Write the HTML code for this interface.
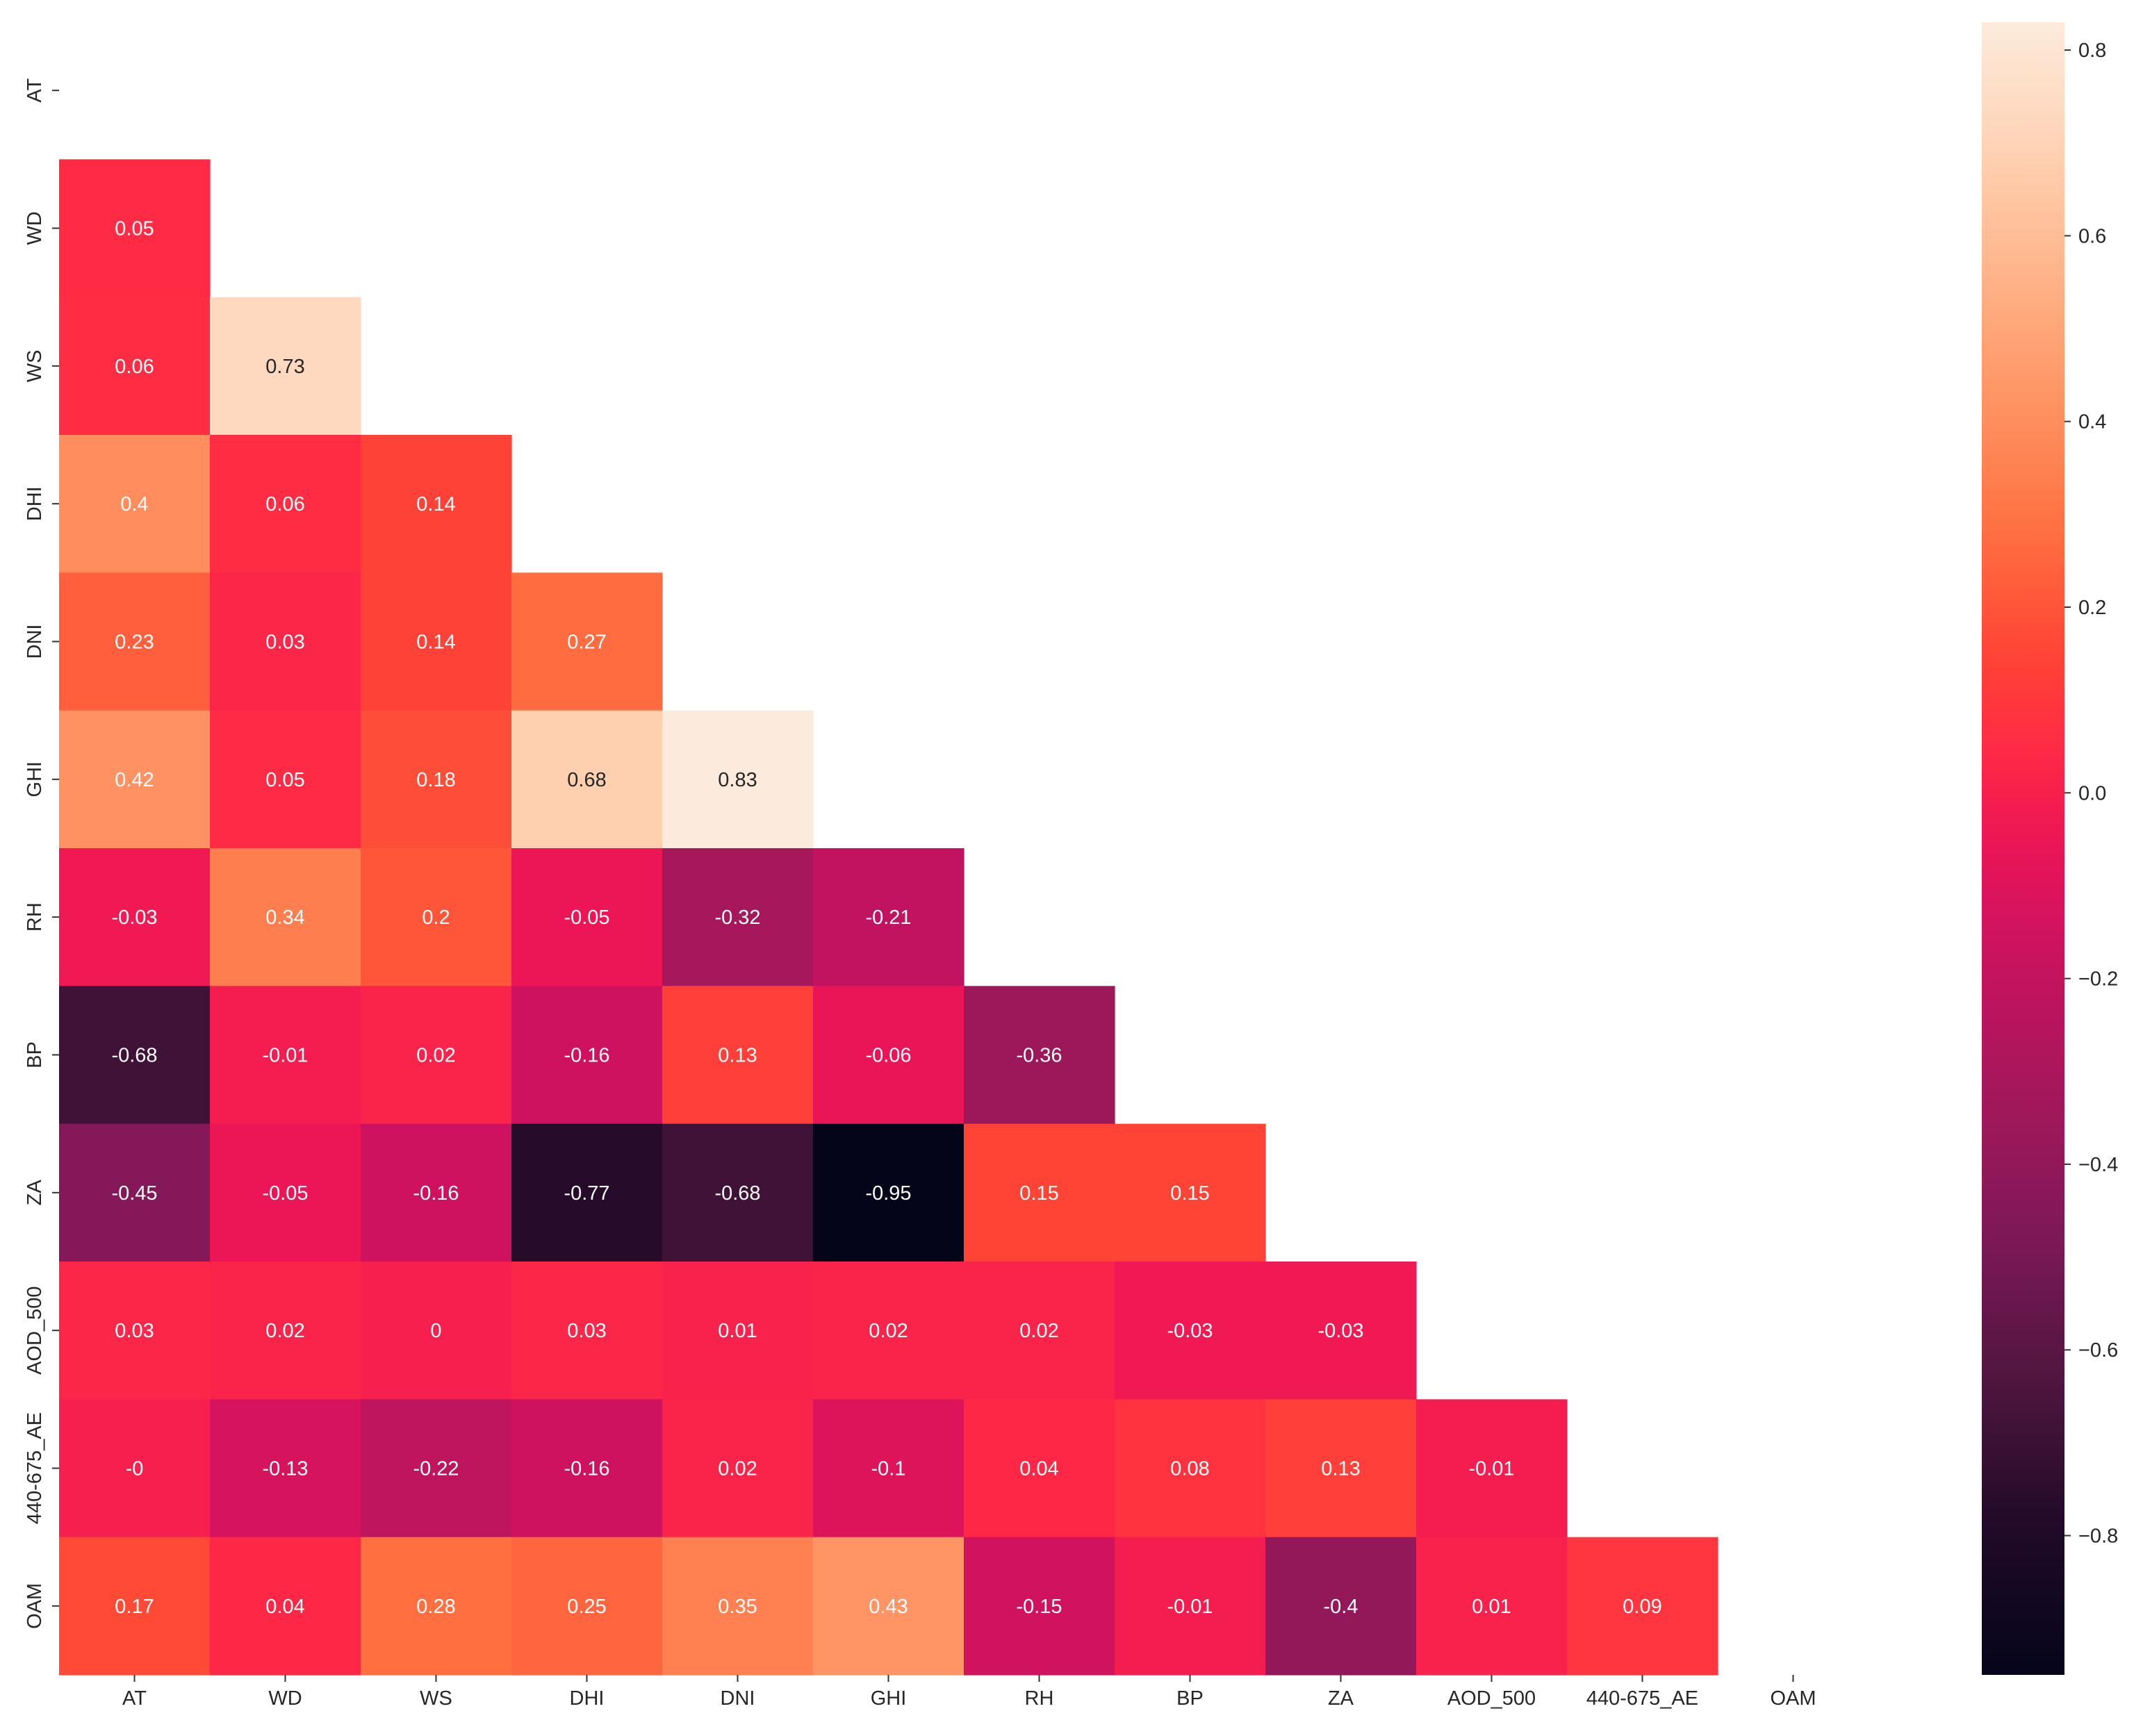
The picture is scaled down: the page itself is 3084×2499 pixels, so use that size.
<!DOCTYPE html>
<html><head><meta charset="utf-8">
<style>
html,body{margin:0;padding:0;background:#fff;}
svg{display:block;}
text{font-family:"Liberation Sans","DejaVu Sans",sans-serif;}
</style></head>
<body>
<svg id="chart" xmlns="http://www.w3.org/2000/svg" width="3084" height="2499" viewBox="0 0 3084 2499">
<defs><linearGradient id="cbg" x1="0" y1="1" x2="0" y2="0"></linearGradient></defs>
<g id="cells"></g>
<g id="xaxis"></g>
<g id="yaxis"></g>
<g id="cbar"></g>
</svg>
<script>
const labels = ["AT","WD","WS","DHI","DNI","GHI","RH","BP","ZA","AOD_500","440-675_AE","OAM"];
const row1 = [0.05];
const row2 = [0.06,0.73];
const row3 = [0.4,0.06,0.14];
const row4 = [0.23,0.03,0.14,0.27];
const row5 = [0.42,0.05,0.18,0.68,0.83];
const row6 = [-0.03,0.34,0.2,-0.05,-0.32,-0.21];
const row7 = [-0.68,-0.01,0.02,-0.16,0.13,-0.06,-0.36];
const row8 = [-0.45,-0.05,-0.16,-0.77,-0.68,-0.95,0.15,0.15];
const row9 = [0.03,0.02,0,0.03,0.01,0.02,0.02,-0.03,-0.03];
const row10 = [-0,-0.13,-0.22,-0.16,0.02,-0.1,0.04,0.08,0.13,-0.01];
const row11 = [0.17,0.04,0.28,0.25,0.35,0.43,-0.15,-0.01,-0.4,0.01,0.09];
const rowLabels10 = ["-0"];
const rows = [[],row1,row2,row3,row4,row5,row6,row7,row8,row9,row10,row11];
const cbTicks = [0.8,0.6,0.4,0.2,0.0,-0.2,-0.4,-0.6,-0.8];
const vmin = -0.95, vmax = 0.83;

const NS="http://www.w3.org/2000/svg";
const L=85,R=2689,T=31,B=2411;
const cw=(R-L)/12, ch=(B-T)/12;
const xPos=j=>L+j*cw, yPos=i=>T+i*ch;
const stops=[[0,[5,5,26]],[0.09,[32,10,40]],[0.18,[80,22,64]],[0.27,[128,24,88]],[0.34,[160,24,90]],[0.44,[204,18,96]],[0.51,[238,22,85]],[0.56,[255,42,69]],[0.62,[255,69,53]],[0.69,[255,111,64]],[0.80,[255,160,112]],[0.916,[255,208,176]],[1,[252,235,220]]];
function cmap(t){t=Math.max(0,Math.min(1,t));for(let k=1;k<stops.length;k++){if(t<=stops[k][0]){const[a,c0]=stops[k-1],[b,c1]=stops[k];const f=(t-a)/(b-a);return c0.map((v,q)=>Math.round(v+(c1[q]-v)*f));}}return stops[stops.length-1][1];}
const norm=v=>(v-vmin)/(vmax-vmin);
function el(tag,attrs,parent,txt){const e=document.createElementNS(NS,tag);for(const k in attrs)e.setAttribute(k,attrs[k]);if(txt!==undefined)e.textContent=txt;parent.appendChild(e);return e;}

const cells=document.getElementById('cells');
rows.forEach((r,i)=>{r.forEach((v,j)=>{
  const t0=norm(v);
  const c=cmap(t0);
  const rect=el('rect',{x:xPos(j),y:yPos(i),width:cw+0.6,height:ch+0.6,fill:`rgb(${c})`},cells);
  
  
  const s=(i===10&&j===0)?rowLabels10[0]:String(v);
  const t=el('text',{x:xPos(j)+cw/2,y:yPos(i)+ch/2+10,'text-anchor':'middle','font-size':29,fill:t0>0.85?'#262626':'#ffffff'},cells,s);
  
  
});});

const xa=document.getElementById('xaxis'), ya=document.getElementById('yaxis');
labels.forEach((lb,k)=>{
  const cx=xPos(k)+cw/2;
  el('line',{x1:cx,y1:B,x2:cx,y2:B+10,stroke:'#333','stroke-width':2},xa);
  const t=el('text',{x:cx,y:B+43,'text-anchor':'middle','font-size':29,fill:'#262626'},xa,lb);
  
  
  const cy=yPos(k)+ch/2;
  el('line',{x1:L-10,y1:cy,x2:L,y2:cy,stroke:'#333','stroke-width':2},ya);
  const u=el('text',{x:0,y:0,transform:`translate(59,${cy}) rotate(-90)`,'text-anchor':'middle','font-size':29,fill:'#262626'},ya,lb);
  
  
});

const cb=document.getElementById('cbar');
const CL=2852,CR=2971,CT=32,CB=2411;
const g=document.getElementById('cbg');
for(let k=0;k<=40;k++){const c=cmap(k/40);el('stop',{offset:(k/40),'stop-color':`rgb(${c})`},g);}
const bar=el('rect',{x:CL,y:CT,width:CR-CL,height:CB-CT,fill:'url(#cbg)'},cb);


const cy=v=>CB-(v-vmin)/(vmax-vmin)*(CB-CT);
cbTicks.forEach(v=>{
  const y=cy(v);
  el('line',{x1:CR,y1:y,x2:CR+9,y2:y,stroke:'#333','stroke-width':2},cb);
  const t=el('text',{x:CR+20,y:y+10,'font-size':29,fill:'#262626'},cb,v.toFixed(1).replace('-','\u2212'));
  
  
});
</script>
</body></html>
